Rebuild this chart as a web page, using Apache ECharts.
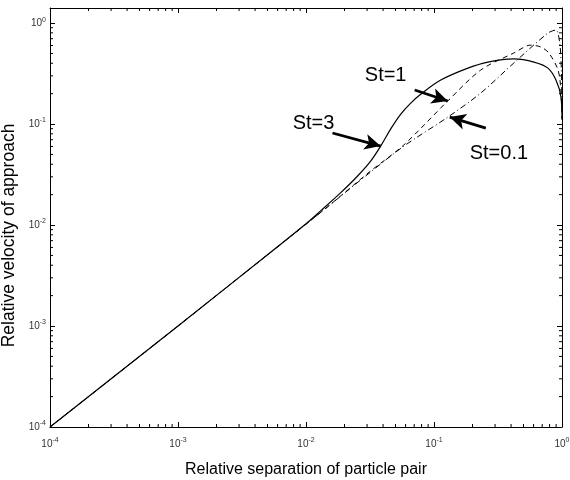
<!DOCTYPE html>
<html>
<head>
<meta charset="utf-8">
<title>Relative velocity of approach</title>
<script src="https://cdn.jsdelivr.net/npm/echarts@6/dist/echarts.min.js"></script>
<style>
  html, body { margin: 0; padding: 0; background: #fff; }
  #main { width: 570px; height: 480px; }
</style>
</head>
<body>
<div id="main"></div>
<script>
// curve St=3 (solid)
var st3X = [1e-4, 1e-3, 0.0056, 0.01, 0.013, 0.0186, 0.0253, 0.032, 0.0383, 0.0458, 0.055, 0.0658, 0.0787, 0.113, 0.184, 0.264, 0.421, 0.604, 0.776, 0.897, 0.982, 0.9995];
var st3Y = [1e-4, 1e-3, 0.0057, 0.0103, 0.0138, 0.0208, 0.0306, 0.043, 0.0605, 0.0891, 0.1256, 0.1614, 0.1975, 0.273, 0.358, 0.411, 0.441, 0.411, 0.358, 0.273, 0.185, 0.11];
// curve St=1 (dashed)
var st1X = [1e-4, 1e-3, 0.01, 0.0147, 0.0316, 0.058, 0.128, 0.232, 0.42, 0.571, 0.685, 0.79, 0.931, 0.98, 0.999];
var st1Y = [1e-4, 1e-3, 0.0102, 0.0151, 0.0339, 0.062, 0.169, 0.343, 0.505, 0.605, 0.578, 0.505, 0.343, 0.217, 0.112];
// curve St=0.1 (dash-dot)
var st01X = [1e-4, 1e-3, 0.01, 0.0147, 0.0316, 0.058, 0.128, 0.232, 0.42, 0.776, 0.897, 0.964, 0.99, 0.999];
var st01Y = [1e-4, 1e-3, 0.0102, 0.0151, 0.0331, 0.0603, 0.117, 0.203, 0.402, 0.796, 0.853, 0.605, 0.316, 0.141];

// annotations: label positions and arrows (tail -> tip), data coordinates
var labelNames = ['St=3', 'St=1', 'St=0.1'];
var labelPos = [[0.01146, 0.1023], [0.0419, 0.3055], [0.3213, 0.0516]];
var arrowTail = [[0.0161, 0.0815], [0.0706, 0.2173], [0.254, 0.0912]];
var arrowTip = [[0.0383, 0.0605], [0.128, 0.169], [0.1327, 0.1172]];

// axis ranges and minor ticks
var xMin = 1e-4, xMax = 1;
var yMin = 1e-4, yMax = 1.41;
var decades = [1e-4, 1e-3, 1e-2, 1e-1];
var minorSteps = [2, 3, 4, 5, 6, 7, 8, 9];

function pairs(xs, ys) {
    return xs.map(function (x, i) { return [x, ys[i]]; });
}

var minorVals = [];
decades.forEach(function (d) {
    minorSteps.forEach(function (m) { minorVals.push(d * m); });
});
var xMinor = minorVals.filter(function (v) { return v < xMax; }).map(function (v) { return [v, yMin]; });
var yMinor = minorVals.filter(function (v) { return v < yMax; }).map(function (v) { return [xMin, v]; });

function powLabel(v) {
    var e = Math.log10(v);
    if (Math.abs(e - Math.round(e)) > 1e-6) return '';
    return '{b|10}{e|' + Math.round(e) + '}';
}

var labelRich = {
    b: { fontSize: 10, color: '#333', fontFamily: 'Liberation Sans' },
    e: { fontSize: 7, color: '#333', fontFamily: 'Liberation Sans', verticalAlign: 'bottom', padding: [0, 0, 7, 0] }
};

var chartDom = document.getElementById('main');
var myChart = echarts.init(chartDom);

var axisBase = {
    type: 'log',
    logBase: 10,
    axisLine: { show: true, lineStyle: { color: '#000', width: 1 } },
    axisTick: { show: true, inside: true, length: 5, lineStyle: { color: '#000' } },
    splitLine: { show: false },
    minorTick: { show: false }
};

function minorTickSeries(data, horizontal) {
    return {
        type: 'custom',
        silent: true,
        clip: false,
        z: 5,
        data: data,
        renderItem: function (params, api) {
            var v = horizontal ? api.value(0) : api.value(1);
            var a, b;
            if (horizontal) {
                a = api.coord([v, yMin]);
                b = api.coord([v, yMax]);
                return {
                    type: 'group',
                    children: [
                        { type: 'line', shape: { x1: a[0], y1: a[1], x2: a[0], y2: a[1] - 3 }, style: { stroke: '#000', lineWidth: 1 } },
                        { type: 'line', shape: { x1: b[0], y1: b[1], x2: b[0], y2: b[1] + 3 }, style: { stroke: '#000', lineWidth: 1 } }
                    ]
                };
            }
            a = api.coord([xMin, v]);
            b = api.coord([xMax, v]);
            return {
                type: 'group',
                children: [
                    { type: 'line', shape: { x1: a[0], y1: a[1], x2: a[0] + 3, y2: a[1] }, style: { stroke: '#000', lineWidth: 1 } },
                    { type: 'line', shape: { x1: b[0], y1: b[1], x2: b[0] - 3, y2: b[1] }, style: { stroke: '#000', lineWidth: 1 } }
                ]
            };
        }
    };
}

var option = {
    animation: false,
    backgroundColor: '#fff',
    grid: { left: 50, right: 8, top: 8, bottom: 53, containLabel: false, outerBoundsMode: 'none' },
    xAxis: [
        Object.assign({}, axisBase, {
            min: xMin, max: xMax,
            position: 'bottom',
            name: 'Relative separation of particle pair',
            nameLocation: 'middle',
            nameGap: 35,
            nameTextStyle: { fontSize: 16, color: '#000', fontFamily: 'Liberation Sans' },
            axisLabel: { show: true, margin: 10, formatter: powLabel, rich: labelRich, showMaxLabel: true }
        }),
        Object.assign({}, axisBase, {
            min: xMin, max: xMax,
            position: 'top',
            axisLabel: { show: false }
        })
    ],
    yAxis: [
        Object.assign({}, axisBase, {
            min: yMin, max: yMax,
            position: 'left',
            name: 'Relative velocity of approach',
            nameLocation: 'middle',
            nameGap: 30,
            nameTextStyle: { fontSize: 17.5, color: '#000', fontFamily: 'Liberation Sans', padding: [0, 36, 0, 0] },
            axisLabel: { show: true, margin: 4, formatter: powLabel, rich: labelRich }
        }),
        Object.assign({}, axisBase, {
            min: yMin, max: yMax,
            position: 'right',
            axisLabel: { show: false }
        })
    ],
    series: [
        {
            name: 'St=3',
            type: 'line',
            data: pairs(st3X, st3Y),
            showSymbol: false,
            smooth: 0.35,
            lineStyle: { color: '#000', width: 1.2, type: 'solid' },
            z: 3,
            markLine: {
                silent: true,
                symbol: ['none', 'arrow'],
                symbolSize: [12, 16],
                label: { show: false },
                lineStyle: { color: '#000', width: 2.8, type: 'solid' },
                data: arrowTail.map(function (t, i) {
                    return [{ coord: t }, { coord: arrowTip[i] }];
                })
            },
            markPoint: {
                silent: true,
                symbol: 'circle',
                symbolSize: 0,
                label: {
                    show: true,
                    position: 'inside',
                    formatter: '{b}',
                    fontSize: 20,
                    color: '#000',
                    fontFamily: 'Liberation Sans'
                },
                data: labelNames.map(function (n, i) {
                    return { name: n, coord: labelPos[i] };
                })
            }
        },
        {
            name: 'St=1',
            type: 'line',
            data: pairs(st1X, st1Y),
            showSymbol: false,
            smooth: 0.3,
            lineStyle: { color: '#000', width: 1, type: [5, 4] },
            z: 2
        },
        {
            name: 'St=0.1',
            type: 'line',
            data: pairs(st01X, st01Y),
            showSymbol: false,
            smooth: 0.3,
            lineStyle: { color: '#000', width: 1, type: [6, 3, 1, 3] },
            z: 2
        },
        minorTickSeries(xMinor, true),
        minorTickSeries(yMinor, false)
    ]
};

myChart.setOption(option);
</script>
</body>
</html>
